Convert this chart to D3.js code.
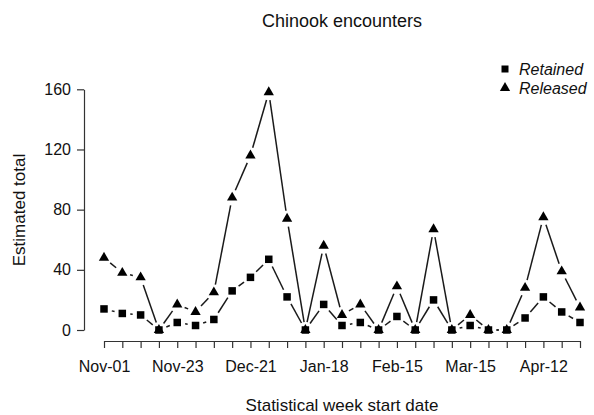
<!DOCTYPE html>
<html>
<head>
<meta charset="utf-8">
<script src="https://cdn.jsdelivr.net/npm/d3@7"></script>
<style>
  html, body { margin: 0; padding: 0; background: #fff; }
  svg { display: block; }
  text { font-family: "Liberation Sans", Arial, sans-serif; fill: #111; }
</style>
</head>
<body>
<svg id="chart" width="594" height="415"></svg>
<script>
const weeks = ["Nov-01","Nov-02","Nov-09","Nov-16","Nov-23","Nov-30","Dec-07","Dec-14","Dec-21","Dec-28",
  "Jan-04","Jan-11","Jan-18","Jan-25","Feb-01","Feb-08","Feb-15","Feb-22","Mar-01","Mar-08",
  "Mar-15","Mar-22","Mar-29","Apr-05","Apr-12","Apr-19","Apr-26"];
const tickLabels = ["Nov-01","Nov-23","Dec-21","Jan-18","Feb-15","Mar-15","Apr-12"];
const yTicks = [0, 40, 80, 120, 160];
const retained = [14,11,10,0,5,3,7,26,35,47,22,0,17,3,5,0,9,0,20,0,3,0,0,8,22,12,5];
const released = [48,38,35,0,17,12,25,88,116,158,74,0,56,10,17,0,29,0,67,0,10,0,0,28,75,39,15];

const svg = d3.select("#chart");
const x = d3.scalePoint().domain(weeks).range([104, 580]);
const y = d3.scaleLinear().domain([0, 160]).range([330, 89.3]);

// axes
const xAxis = d3.axisBottom(x).tickSize(7).tickSizeOuter(0).tickPadding(13)
  .tickFormat(d => tickLabels.includes(d) ? d : "");
const gx = svg.append("g").attr("transform", "translate(0,341)").call(xAxis);
const yAxis = d3.axisLeft(y).tickValues(yTicks).tickSize(7).tickSizeOuter(0).tickPadding(6);
const gy = svg.append("g").attr("transform", "translate(84,0)").call(yAxis);
[gx, gy].forEach(g => {
  g.selectAll("path, line").attr("stroke", "#333").attr("stroke-width", 1.2);
  g.selectAll("text").attr("font-size", 16).attr("fill", "#111")
    .attr("font-family", "Liberation Sans, Arial, sans-serif");
});
gx.selectAll("text").attr("dy", "0.71em");

// titles
svg.append("text").attr("x", 342).attr("y", 27).attr("text-anchor", "middle")
  .attr("font-size", 18).text("Chinook encounters");
svg.append("text").attr("x", 342).attr("y", 411).attr("text-anchor", "middle")
  .attr("font-size", 17).text("Statistical week start date");
svg.append("text").attr("transform", "translate(25,210) rotate(-90)").attr("text-anchor", "middle")
  .attr("font-size", 17).text("Estimated total");

// lines with gaps (R type="b")
function gappedSegments(vals, gap) {
  const segs = [];
  for (let i = 0; i < vals.length - 1; i++) {
    const x1 = x(weeks[i]), y1 = y(vals[i]), x2 = x(weeks[i+1]), y2 = y(vals[i+1]);
    const dx = x2 - x1, dy = y2 - y1, L = Math.hypot(dx, dy);
    if (L > 2 * gap) {
      const ux = dx / L, uy = dy / L;
      segs.push([x1 + ux * gap, y1 + uy * gap, x2 - ux * gap, y2 - uy * gap]);
    }
  }
  return segs;
}
[retained, released].forEach(vals => {
  svg.append("g").selectAll("line").data(gappedSegments(vals, 8)).join("line")
    .attr("x1", d => d[0]).attr("y1", d => d[1]).attr("x2", d => d[2]).attr("y2", d => d[3])
    .attr("stroke", "#1a1a1a").attr("stroke-width", 1.5);
});

// markers
const tri = d3.symbol().type(d3.symbolTriangle).size(46);
svg.append("g").selectAll("path").data(released).join("path")
  .attr("d", tri).attr("fill", "#000")
  .attr("transform", (d, i) => `translate(${x(weeks[i])},${y(d)})`);
svg.append("g").selectAll("rect").data(retained).join("rect")
  .attr("x", (d, i) => x(weeks[i]) - 3.75).attr("y", d => y(d) - 3.75)
  .attr("width", 7.5).attr("height", 7.5).attr("fill", "#000");

// legend
const leg = svg.append("g");
leg.append("rect").attr("x", 501.5).attr("y", 65.5).attr("width", 7).attr("height", 7).attr("fill", "#000");
leg.append("path").attr("d", tri).attr("fill", "#000").attr("transform", "translate(505,88)");
leg.append("text").attr("x", 519).attr("y", 75).attr("font-size", 16).attr("font-style", "italic").text("Retained");
leg.append("text").attr("x", 519).attr("y", 94).attr("font-size", 16).attr("font-style", "italic").text("Released");
</script>
</body>
</html>
